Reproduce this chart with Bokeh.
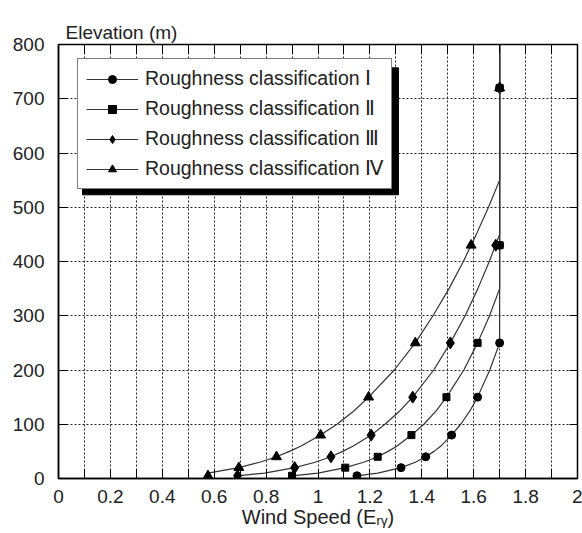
from bokeh.plotting import figure
from bokeh.models import (FixedTicker, LinearAxis, NumeralTickFormatter, Range1d)
from bokeh.embed import file_html
from bokeh.resources import INLINE

# ---------------- data ----------------
series_names = ["Roughness classification Ⅰ", "Roughness classification Ⅱ",
                "Roughness classification Ⅲ", "Roughness classification Ⅳ"]
markers = ["circle", "square", "diamond", "triangle"]

# marker points: elevation (m)
marker_z = [5, 20, 40, 80, 150, 250, 430, 720]
marker_I = [1.15, 1.32, 1.415, 1.515, 1.615, 1.70, 1.70, 1.70]
marker_II = [0.90, 1.105, 1.23, 1.36, 1.495, 1.615, 1.70, 1.70]
marker_III = [0.69, 0.91, 1.05, 1.205, 1.365, 1.51, 1.685, 1.70]
marker_IV = [0.576, 0.695, 0.84, 1.01, 1.195, 1.375, 1.59, 1.70]

# curve traces
curve_I_z = [5, 10, 20, 30, 40, 50, 60, 80, 100, 125, 150, 200, 250, 800]
curve_I_x = [1.15, 1.23, 1.32, 1.375, 1.415, 1.447, 1.474, 1.515, 1.55, 1.586, 1.615, 1.662, 1.70, 1.70]
curve_II_z = [5, 10, 20, 30, 40, 50, 60, 80, 100, 125, 150, 200, 250, 300, 350, 800]
curve_II_x = [0.90, 1.0, 1.105, 1.176, 1.23, 1.27, 1.305, 1.36, 1.408, 1.456, 1.495, 1.562, 1.615, 1.661, 1.70, 1.70]
curve_III_z = [5, 10, 20, 30, 40, 50, 60, 80, 100, 125, 150, 200, 250, 300, 350, 400, 450, 800]
curve_III_x = [0.69, 0.794, 0.91, 0.989, 1.05, 1.095, 1.136, 1.205, 1.258, 1.316, 1.365, 1.446, 1.51, 1.567, 1.616, 1.66, 1.70, 1.70]
curve_IV_z = [5, 10, 20, 30, 40, 50, 60, 80, 100, 125, 150, 200, 250, 300, 350, 400, 450, 500, 550, 800]
curve_IV_x = [0.576, 0.576, 0.695, 0.775, 0.84, 0.89, 0.935, 1.01, 1.073, 1.139, 1.195, 1.294, 1.375, 1.443, 1.505, 1.56, 1.61, 1.657, 1.70, 1.70]

x_ticks = [0, 0.2, 0.4, 0.6, 0.8, 1, 1.2, 1.4, 1.6, 1.8, 2]
x_minor = [0.1, 0.3, 0.5, 0.7, 0.9, 1.1, 1.3, 1.5, 1.7, 1.9]
y_ticks = [0, 100, 200, 300, 400, 500, 600, 700, 800]

x_title = "Wind Speed (Eᵣᵧ)"
y_title = "Elevation (m)"

# ---------------- figure ----------------
FONT = "Liberation Sans"
TXT = "#222222"
p = figure(width=582, height=533, output_backend="svg", toolbar_location=None,
           x_range=Range1d(0, 2), y_range=Range1d(0, 800),
           min_border_left=58, min_border_right=5, min_border_top=44, min_border_bottom=55)
p.background_fill_color = "white"
p.border_fill_color = "white"
p.outline_line_color = "black"
p.outline_line_width = 1.5

# y title in the top-left corner
p.title.text = y_title
p.title.align = "left"
p.title.offset = 7
p.title.standoff = 3
p.title.text_font = FONT
p.title.text_font_size = "19px"
p.title.text_font_style = "normal"
p.title.text_color = TXT

xt = FixedTicker(ticks=x_ticks, minor_ticks=x_minor)
yt = FixedTicker(ticks=y_ticks)

xa = p.xaxis[0]
xa.ticker = xt
xa.formatter = NumeralTickFormatter(format="0.[0]")
ya = p.yaxis[0]
ya.ticker = yt

for ax in (xa, ya):
    ax.axis_line_color = "black"
    ax.axis_line_width = 1.5
    ax.major_tick_in = 9
    ax.major_tick_out = 0
    ax.minor_tick_in = 9
    ax.minor_tick_out = 0
    ax.major_tick_line_color = "black"
    ax.minor_tick_line_color = "black"
    ax.major_label_text_font = FONT
    ax.major_label_text_font_size = "19px"
    ax.major_label_text_color = TXT
xa.major_label_standoff = 11
ya.major_label_standoff = 14
xa.axis_label = x_title
xa.axis_label_text_font = FONT
xa.axis_label_text_font_size = "20px"
xa.axis_label_text_font_style = "normal"
xa.axis_label_text_color = TXT
xa.axis_label_standoff = 0

top = LinearAxis(ticker=xt, major_label_text_font_size="1px", major_label_text_color=None,
                 major_label_standoff=0,
                 major_tick_in=9, major_tick_out=0, minor_tick_in=9, minor_tick_out=0,
                 axis_line_color=None)
right = LinearAxis(ticker=yt, major_label_text_font_size="1px", major_label_text_color=None,
                   major_label_standoff=0,
                   major_tick_in=8, major_tick_out=0, axis_line_color=None)
p.add_layout(top, "above")
p.add_layout(right, "right")

for g in (p.xgrid[0], p.ygrid[0]):
    g.grid_line_color = "#222222"
    g.grid_line_dash = "2 2"
    g.grid_line_width = 1
p.xgrid[0].ticker = xt
p.ygrid[0].ticker = yt
p.xgrid[0].minor_grid_line_color = "#222222"
p.xgrid[0].minor_grid_line_dash = "2 2"

# legend shadow (drawn before the legend box)
p.quad(left=[0.0925], right=[1.31], top=[757], bottom=[523], color="black")

curves = [(curve_I_x, curve_I_z), (curve_II_x, curve_II_z),
          (curve_III_x, curve_III_z), (curve_IV_x, curve_IV_z)]
mvals = [marker_I, marker_II, marker_III, marker_IV]
msizes = [8, 7, 12, 10]
for name, (cx, cz), mv, mk, ms in zip(series_names, curves, mvals, markers, msizes):
    p.line(cx, cz, line_color="#333333", line_width=1.2, legend_label=name)
    p.scatter(mv, marker_z, marker=mk, size=ms, color="black", legend_label=name)

lg = p.legend[0]
lg.location = (19, 289)
lg.label_text_font = FONT
lg.label_text_font_size = "19.5px"
lg.label_text_color = TXT
lg.glyph_width = 52
lg.glyph_height = 20
lg.label_height = 20
lg.spacing = 7
lg.padding = 8
lg.margin = 0
lg.label_standoff = 7
lg.border_line_color = "black"
lg.border_line_width = 1.5
lg.background_fill_color = "white"
lg.background_fill_alpha = 1.0

open("out.html", "w").write(file_html(p, INLINE))
